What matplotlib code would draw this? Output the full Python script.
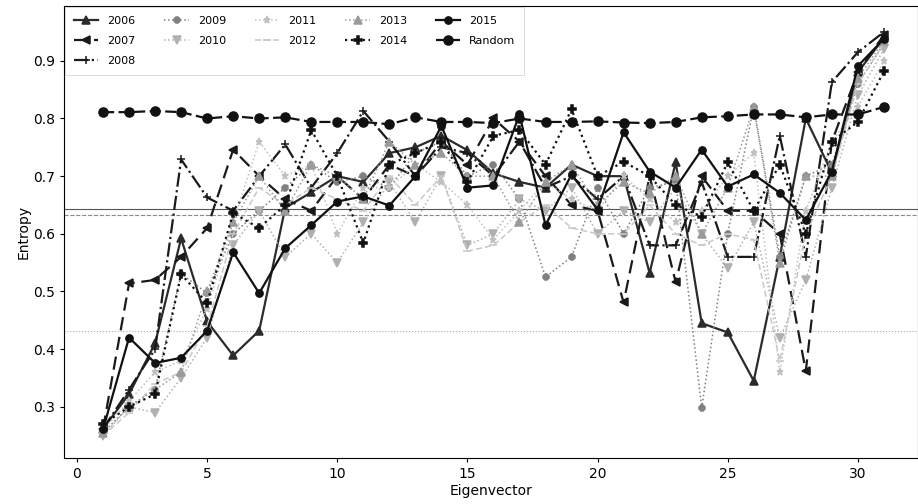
import numpy as np
import matplotlib
matplotlib.use('Agg')
import matplotlib.pyplot as plt

eigen = list(range(1, 32))

y2006 = [0.262, 0.322, 0.410, 0.592, 0.448, 0.389, 0.432, 0.645, 0.672, 0.700, 0.690, 0.740, 0.750, 0.770, 0.745, 0.705,
         0.690, 0.680, 0.720, 0.700, 0.700, 0.532, 0.724, 0.445, 0.429, 0.345, 0.560, 0.800, 0.706, 0.880, 0.940]
y2007 = [0.262, 0.514, 0.520, 0.560, 0.610, 0.746, 0.700, 0.660, 0.640, 0.700, 0.660, 0.720, 0.700, 0.760, 0.720, 0.800,
         0.760, 0.700, 0.650, 0.640, 0.481, 0.700, 0.516, 0.700, 0.640, 0.640, 0.600, 0.362, 0.760, 0.880, 0.945]
y2008 = [0.262, 0.330, 0.400, 0.729, 0.663, 0.640, 0.700, 0.755, 0.680, 0.740, 0.813, 0.760, 0.700, 0.750, 0.740, 0.700,
         0.760, 0.680, 0.700, 0.660, 0.700, 0.580, 0.580, 0.690, 0.560, 0.560, 0.770, 0.560, 0.863, 0.915, 0.950]
y2009 = [0.255, 0.300, 0.330, 0.531, 0.497, 0.600, 0.640, 0.680, 0.720, 0.690, 0.700, 0.680, 0.740, 0.760, 0.700, 0.720,
         0.660, 0.525, 0.560, 0.680, 0.600, 0.680, 0.690, 0.298, 0.600, 0.820, 0.560, 0.700, 0.720, 0.860, 0.930]
y2010 = [0.250, 0.300, 0.290, 0.350, 0.420, 0.580, 0.640, 0.560, 0.600, 0.550, 0.620, 0.690, 0.620, 0.700, 0.580, 0.600,
         0.660, 0.640, 0.680, 0.600, 0.640, 0.620, 0.680, 0.600, 0.540, 0.620, 0.420, 0.520, 0.680, 0.840, 0.920]
y2011 = [0.260, 0.310, 0.360, 0.380, 0.470, 0.620, 0.760, 0.700, 0.720, 0.600, 0.680, 0.680, 0.720, 0.690, 0.650, 0.590,
         0.640, 0.690, 0.660, 0.640, 0.700, 0.660, 0.620, 0.640, 0.700, 0.740, 0.360, 0.640, 0.760, 0.820, 0.900]
y2012 = [0.250, 0.290, 0.340, 0.360, 0.440, 0.600, 0.680, 0.650, 0.680, 0.660, 0.640, 0.700, 0.650, 0.700, 0.570, 0.580,
         0.620, 0.650, 0.610, 0.600, 0.600, 0.650, 0.600, 0.580, 0.600, 0.590, 0.380, 0.600, 0.700, 0.860, 0.930]
y2013 = [0.255, 0.300, 0.330, 0.360, 0.500, 0.620, 0.700, 0.640, 0.720, 0.700, 0.660, 0.760, 0.720, 0.740, 0.700, 0.700,
         0.620, 0.690, 0.720, 0.650, 0.690, 0.670, 0.700, 0.600, 0.680, 0.820, 0.550, 0.700, 0.700, 0.870, 0.935]
y2014 = [0.270, 0.300, 0.322, 0.530, 0.480, 0.636, 0.610, 0.650, 0.780, 0.700, 0.584, 0.720, 0.740, 0.760, 0.690, 0.770,
         0.780, 0.720, 0.816, 0.700, 0.725, 0.700, 0.650, 0.630, 0.724, 0.640, 0.720, 0.600, 0.760, 0.794, 0.882]
y2015 = [0.261, 0.420, 0.376, 0.385, 0.432, 0.568, 0.497, 0.575, 0.615, 0.656, 0.665, 0.649, 0.700, 0.787, 0.680, 0.684,
         0.807, 0.615, 0.703, 0.642, 0.776, 0.708, 0.680, 0.746, 0.682, 0.703, 0.671, 0.624, 0.708, 0.891, 0.938]
yRandom = [0.811, 0.811, 0.813, 0.811, 0.800, 0.804, 0.800, 0.802, 0.794, 0.794, 0.794, 0.790, 0.802, 0.794, 0.794, 0.792,
           0.800, 0.794, 0.794, 0.795, 0.793, 0.792, 0.794, 0.802, 0.804, 0.807, 0.807, 0.802, 0.807, 0.807, 0.820]

# (label, values, color, linestyle, marker)
series = [
    ('2006', y2006, '#2b2b2b', '-', '^'),
    ('2007', y2007, '#1a1a1a', (0, (6, 3)), '<'),
    ('2008', y2008, '#1a1a1a', '-.', '+'),
    ('2009', y2009, '#808080', ':', '8'),
    ('2010', y2010, '#b0b0b0', ':', 'v'),
    ('2011', y2011, '#c0c0c0', ':', '*'),
    ('2012', y2012, '#c8c8c8', (0, (4, 2)), '_'),
    ('2013', y2013, '#9a9a9a', ':', '^'),
    ('2014', y2014, '#111111', ':', 'P'),
    ('2015', y2015, '#111111', '-', 'o'),
    ('Random', yRandom, '#111111', (0, (5, 2)), 'o'),
]

fig = plt.figure(figsize=(9.18, 5.04), dpi=100)
ax = fig.add_axes([0.0697, 0.091, 0.93, 0.897])

ax.axhline(0.643, color='#555555', lw=0.8, zorder=1)
ax.axhline(0.633, color='#888888', lw=0.8, ls='--', zorder=1)
ax.axhline(0.432, color='#aaaaaa', lw=0.8, ls=':', zorder=1)

for label, vals, col, ls, mk in series:
    lw = 1.6 if col in ('#111111', '#1a1a1a', '#2b2b2b') else 1.1
    ms = 6.5 if label == 'Random' else 5.2
    ax.plot(eigen, vals, color=col, ls=ls, marker=mk, lw=lw, ms=ms,
            mec=col, mew=1.1, label=label)

ax.set_xlim(-0.5, 32.3)
ax.set_ylim(0.211, 0.995)
ax.set_xticks([0, 5, 10, 15, 20, 25, 30])
ax.set_yticks([0.3, 0.4, 0.5, 0.6, 0.7, 0.8, 0.9])
ax.tick_params(labelsize=10, length=3)
ax.set_xlabel('Eigenvector', fontsize=10, labelpad=2)
ax.set_ylabel('Entropy', fontsize=10, labelpad=2)

leg = ax.legend(loc='upper left', ncol=5, fontsize=8, handlelength=2.2,
                columnspacing=2.6, labelspacing=0.9, borderaxespad=0.1,
                borderpad=0.8, frameon=True, fancybox=False)
leg.get_frame().set_edgecolor('#cccccc')
leg.get_frame().set_linewidth(0.6)

fig.savefig('out.png', dpi=100)
